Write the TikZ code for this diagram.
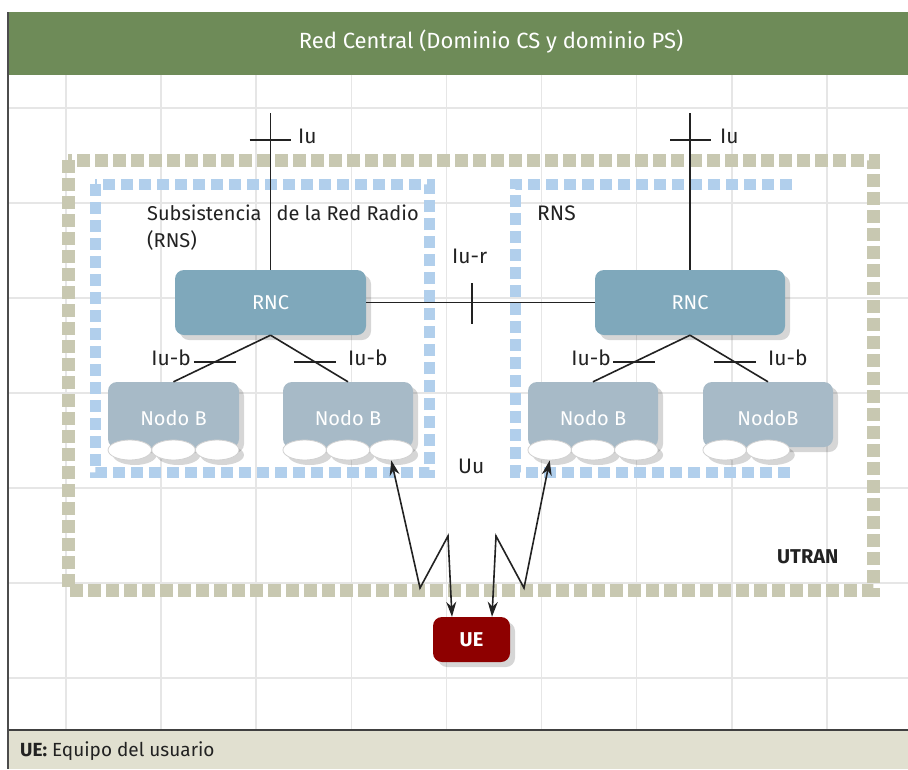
\documentclass[tikz,border=0pt]{standalone}
\usepackage{fontspec}
\setmainfont{Fira Sans}
\usetikzlibrary{shadows,arrows.meta,calc,shapes.geometric}
\definecolor{hdr}{HTML}{6E8B58}
\definecolor{gridc}{HTML}{E6E6E6}
\definecolor{khaki}{HTML}{C8C8B1}
\definecolor{bluedash}{HTML}{B1CFEC}
\definecolor{rncc}{HTML}{7FA8BB}
\definecolor{nodebc}{HTML}{A7BAC7}
\definecolor{uec}{HTML}{8E0000}
\definecolor{ftr}{HTML}{E1E0D0}
\definecolor{ink}{HTML}{222222}
\tikzset{
  shad/.style={drop shadow={shadow xshift=5pt,shadow yshift=-5pt,fill=black,opacity=0.16}},
  rncbox/.style={shad, fill=rncc, rounded corners=9pt, minimum width=191pt, minimum height=65pt, inner sep=0pt, text=white, font=\fontsize{20}{24}\selectfont},
  nbbody/.style={shad, fill=nodebc, rounded corners=9pt, minimum width=130pt, minimum height=66pt, inner sep=0pt},
  nbell/.style={ellipse, shad, fill=white, draw=black!18, line width=0.8pt, minimum width=43.5pt, minimum height=20pt, inner sep=0pt},
  nbtext/.style={text=white, font=\fontsize{20}{24}\selectfont, inner sep=0pt},
  uebox/.style={shad, fill=uec, rounded corners=9pt, minimum width=77pt, minimum height=45pt, inner sep=0pt, text=white, font=\fontsize{20}{24}\selectfont\bfseries},
  lbl/.style={text=ink, font=\fontsize{21}{27}\selectfont, inner sep=0pt},
  conn/.style={draw=ink, line width=1.6pt},
  tickmark/.style={draw=ink, line width=1.6pt},
  uu/.style={conn, {Stealth[length=15pt,width=10pt]}-{Stealth[length=15pt,width=10pt]}},
  gridline/.style={draw=gridc, line width=1.6pt},
  outerdash/.style={draw=khaki, line width=13pt, dash pattern=on 13pt off 5pt},
  innerdash/.style={draw=bluedash, line width=11pt, dash pattern=on 12pt off 6pt},
}
\begin{document}
\begin{tikzpicture}[x=1pt,y=-1pt]
\useasboundingbox (0,0) rectangle (908,769);
\fill[white] (0,0) rectangle (908,769);
% grid
\foreach \i in {0,...,8} \draw[gridline] ({66+95.1*\i},75) -- ({66+95.1*\i},730);
\foreach \j in {0,...,6} \draw[gridline] (8,{108+95*\j}) -- (908,{108+95*\j});
% header
\fill[hdr] (8,12) rectangle (908,75);
\node[text=white, font=\fontsize{22}{26}\selectfont, inner sep=0pt] (hdrtext) at (491,42) {Red Central (Dominio CS y dominio PS)};
% footer
\fill[ftr] (8,730) rectangle (908,769);
\draw[draw=black!75, line width=2pt] (8,730) -- (908,730);
\node[anchor=base west, text=ink, font=\fontsize{19}{23}\selectfont, inner sep=0pt] (ftrtext) at (20,756) {\textbf{UE:} Equipo del usuario};
% left border
\draw[draw=black!70, line width=1.8pt] (8,12) -- (8,769);
% dashed areas
\draw[outerdash] (68,160) rectangle (873,590);
\draw[innerdash] (95,184) rectangle (429,472);
\draw[innerdash] (792,184) -- (515,184) -- (515,472) -- (792,472);
% RNCs
\node[rncbox] (rncL) at (270.5,302.5) {RNC};
\node[rncbox, minimum width=190pt] (rncR) at (690,302.5) {RNC};
% Node B bodies
\node[nbbody, minimum width=131pt] (nbL1) at (173.5,415) {};
\node[nbbody] (nbL2) at (348,415) {};
\node[nbbody] (nbR1) at (593,415) {};
\node[nbbody, minimum height=65pt] (nbR2) at (768,414.5) {};
% ellipses
\node[nbell] (eL11) at (129.8,450) {};
\node[nbell] (eL12) at (173.5,450) {};
\node[nbell] (eL13) at (217.2,450) {};
\node[nbell] (eL21) at (304.7,450) {};
\node[nbell] (eL22) at (348,450) {};
\node[nbell] (eL23) at (391.3,450) {};
\node[nbell] (eR11) at (549.7,450) {};
\node[nbell] (eR12) at (593,450) {};
\node[nbell] (eR13) at (636.3,450) {};
\node[nbell] (eR21) at (724.7,450) {};
\node[nbell] (eR22) at (768,450) {};
% Node B texts
\node[nbtext] (tL1) at (173.5,418) {Nodo B};
\node[nbtext] (tL2) at (348,418) {Nodo B};
\node[nbtext] (tR1) at (593,418) {Nodo B};
\node[nbtext] (tR2) at (768,418) {NodoB};
% UE
\node[uebox] (ue) at (471.5,639.5) {UE};
% Iu connectors
\coordinate (iuLtop) at (270.5,113);
\coordinate (iuRtop) at (690,113);
\draw[conn] (iuLtop) -- (rncL.north);
\draw[conn] (iuRtop) -- (rncR.north);
\coordinate (iuLt) at (270.5,140);
\coordinate (iuRt) at (690,140);
\draw[tickmark] ([xshift=-21pt]iuLt) -- ([xshift=20pt]iuLt);
\draw[tickmark] ([xshift=-20pt]iuRt) -- ([xshift=21pt]iuRt);
\node[lbl, anchor=base west] (iuL) at (298,143) {Iu};
\node[lbl, anchor=base west] (iuR) at (720,143) {Iu};
% Iu-r
\draw[conn] (rncL.east) -- (rncR.west);
\coordinate (iurT) at (472,302.5);
\draw[tickmark] ([yshift=-21pt]iurT) -- ([yshift=20pt]iurT);
\node[lbl, anchor=base west] (iurlbl) at (452,263) {Iu-r};
% Iu-b
\draw[conn] (rncL.south) -- coordinate[pos=0.574] (bL1) (nbL1.north);
\draw[conn] (rncL.south) -- coordinate[pos=0.574] (bL2) (nbL2.north);
\draw[conn] (rncR.south) -- coordinate[pos=0.574] (bR1) (nbR1.north);
\draw[conn] (rncR.south) -- coordinate[pos=0.574] (bR2) (nbR2.north);
\foreach \c in {bL1,bL2,bR1,bR2} \draw[tickmark] ([xshift=-21pt]\c) -- ([xshift=21pt]\c);
\node[lbl, anchor=base east] (ibL1) at (191,365) {Iu-b};
\node[lbl, anchor=base west] (ibL2) at (348,365) {Iu-b};
\node[lbl, anchor=base east] (ibR1) at (611,365) {Iu-b};
\node[lbl, anchor=base west] (ibR2) at (768,365) {Iu-b};
% texts
\node[lbl, anchor=base west, font=\fontsize{20}{26}\selectfont] (rnsL1) at (147,220) {Subsistencia\hspace{15pt}de la Red Radio};
\node[lbl, anchor=base west, font=\fontsize{20}{26}\selectfont] (rnsL2) at (147,247) {(RNS)};
\node[lbl, anchor=base west] (rnsR) at (537,220) {RNS};
\node[lbl, anchor=base west] (uulbl) at (458,473) {Uu};
\node[lbl, anchor=base west, font=\fontsize{20}{24}\selectfont\bfseries] (utran) at (777,563) {UTRAN};
% Uu radio links
\coordinate (zL1) at (420,588);
\coordinate (zL2) at (448,536);
\coordinate (zR1) at (496,536);
\coordinate (zR2) at (524,588);
\coordinate (ueL) at ([xshift=-19.5pt]ue.north);
\coordinate (ueR) at ([xshift=20.5pt]ue.north);
\draw[uu] (eL23.south) -- (zL1) -- (zL2) -- (ueL);
\draw[uu] (ueR) -- (zR1) -- (zR2) -- (eR11.south);
\end{tikzpicture}
\end{document}
